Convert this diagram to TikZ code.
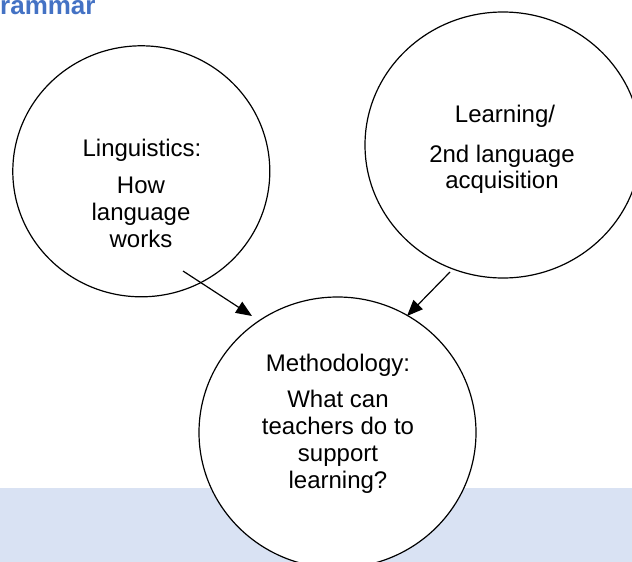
\documentclass[tikz,border=0pt]{standalone}
\usepackage{fontspec}
\setmainfont{Liberation Sans}
\usetikzlibrary{shapes.geometric,arrows.meta}
\definecolor{bandblue}{HTML}{D9E2F3}
\definecolor{titleblue}{HTML}{4472C4}
\tikzset{
  bubble/.style={ellipse, draw=black, line width=1.2pt, fill=white, inner sep=0pt},
  txt/.style={anchor=base, inner sep=0pt, font=\fontsize{24pt}{27pt}\selectfont, text=black},
  link/.style={line width=1.2pt, -{Triangle[length=16pt,width=13pt]}},
  title/.style={anchor=base west, inner sep=0pt, font=\fontsize{26pt}{30pt}\selectfont\bfseries, text=titleblue}
}
\begin{document}
\begin{tikzpicture}[x=1pt,y=-1pt]
\useasboundingbox (0,0) rectangle (632,562);
\clip (0,0) rectangle (632,562);
% background band
\fill[bandblue] (0,488) rectangle (632,562);
% title (cropped at the top edge, as in the reference)
\node[title] (ttl) at (0,14) {rammar};
% circles
\node[bubble, minimum width=257pt, minimum height=251pt] (ling) at (141.3,171.3) {};
\node[bubble, minimum width=276pt, minimum height=266pt] (learn) at (503,145) {};
\node[bubble, minimum width=277pt, minimum height=271pt] (meth) at (337.5,432.5) {};
% arrow end points
\coordinate (a1s) at (183,271);
\coordinate (a1e) at (252,316);
\coordinate (a2s) at (450,272);
\coordinate (a2e) at (407,316);
\draw[link] (a1s) -- (a1e);
\draw[link] (a2s) -- (a2e);
% texts left
\node[txt] (l1) at (142,156) {Linguistics:};
\node[txt] (l2) at (141,193) {How};
\node[txt] (l3) at (141,220) {language};
\node[txt] (l4) at (141,247) {works};
% texts right
\node[txt] (r1) at (505,122) {Learning/};
\node[txt] (r2) at (502,162) {2nd language};
\node[txt] (r3) at (502,188) {acquisition};
% texts bottom
\node[txt] (m1) at (338,371) {Methodology:};
\node[txt] (m2) at (338,407) {What can};
\node[txt] (m3) at (338,434) {teachers do to};
\node[txt] (m4) at (338,461) {support};
\node[txt] (m5) at (338,488) {learning?};
\end{tikzpicture}
\end{document}
